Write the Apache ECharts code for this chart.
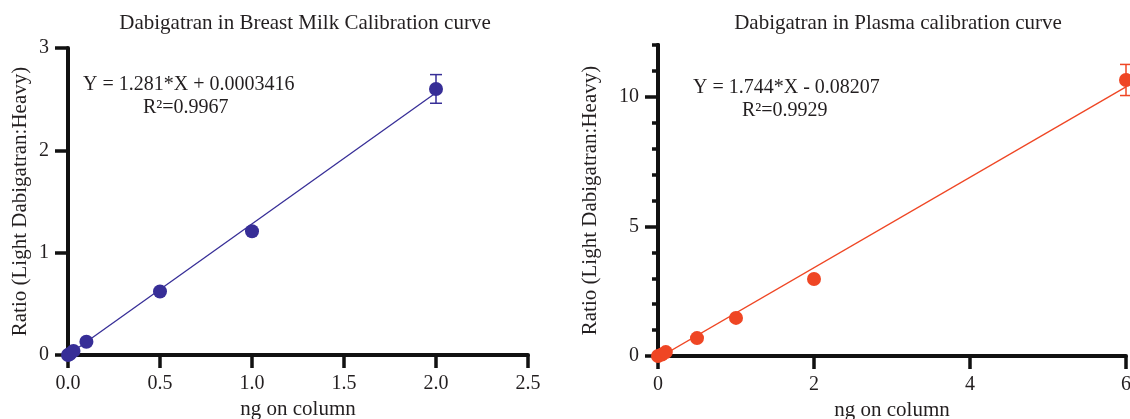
<!DOCTYPE html>
<html>
<head>
<meta charset="utf-8">
<script src="https://cdn.jsdelivr.net/npm/echarts@6/dist/echarts.min.js"></script>
<style>
  html, body { margin: 0; padding: 0; background: #fff; }
  #main { width: 1130px; height: 419px; }
</style>
</head>
<body>
<div id="main"></div>
<script>
// breast milk calibration
const milkX = [0, 0.01, 0.03, 0.1, 0.5, 1.0, 2.0]
const milkY = [0, 0.01, 0.04, 0.13, 0.62, 1.21, 2.6]
const milkErr = [0, 0, 0, 0, 0, 0, 0.14]
const milkFit = { slope: 1.281, intercept: 0.0003416, from: 0, to: 2 }

// plasma calibration
const plasmaX = [0, 0.05, 0.1, 0.5, 1.0, 2.0, 6.0]
const plasmaY = [0, 0.06, 0.15, 0.69, 1.47, 2.97, 10.65]
const plasmaErr = [0, 0, 0, 0, 0, 0, 0.6]
const plasmaFit = { slope: 1.744, intercept: -0.08207, from: 0, to: 6 }

const plasmaMajorTicks = [0, 5, 10]

const milkColor = '#372e97'
const plasmaColor = '#ef4624'
const font = 'Liberation Serif'
const textColor = '#231f20'

const toPoints = (xs, ys) => xs.map((x, i) => [x, ys[i]])
const toErr = (xs, ys, es) => xs.map((x, i) => [x, ys[i] - es[i], ys[i] + es[i]]).filter((d, i) => es[i] > 0)
const fitLine = (f) => [[f.from, f.slope * f.from + f.intercept], [f.to, f.slope * f.to + f.intercept]]

const errorRender = (color) => (params, api) => {
  const lo = api.coord([api.value(0), api.value(1)])
  const hi = api.coord([api.value(0), api.value(2)])
  const w = 6
  const style = { stroke: color, lineWidth: 1.5 }
  return {
    type: 'group',
    children: [
      { type: 'line', shape: { x1: lo[0], y1: lo[1], x2: hi[0], y2: hi[1] }, style },
      { type: 'line', shape: { x1: lo[0] - w, y1: lo[1], x2: lo[0] + w, y2: lo[1] }, style },
      { type: 'line', shape: { x1: hi[0] - w, y1: hi[1], x2: hi[0] + w, y2: hi[1] }, style }
    ]
  }
}

const labelStyle = { color: textColor, fontFamily: font, fontSize: 20, margin: 19 }
const nameStyle = { color: textColor, fontFamily: font, fontSize: 21 }

const axisCommon = {
  axisLine: { onZero: false, lineStyle: { color: '#111', width: 4 } },
  axisTick: { length: 13, lineStyle: { color: '#111', width: 3.5 } },
  splitLine: { show: false },
  axisLabel: labelStyle,
  nameTextStyle: nameStyle,
  nameLocation: 'middle'
}

const chart = echarts.init(document.getElementById('main'))

const titleStyle = { fontFamily: font, fontSize: 21, fontWeight: 'normal', color: textColor }
const eqFont = '20px "Liberation Serif"'

const option = {
  animation: false,
  title: [
    { text: 'Dabigatran in Breast Milk Calibration curve', left: 300, top: 8, textAlign: 'center', textStyle: titleStyle },
    { text: 'Dabigatran in Plasma calibration curve', left: 893, top: 8, textAlign: 'center', textStyle: titleStyle }
  ],
  grid: [
    { left: 68, top: 48, width: 460, height: 307, outerBoundsMode: 'none', containLabel: false },
    { left: 658, top: 45, width: 468, height: 311, outerBoundsMode: 'none', containLabel: false }
  ],
  xAxis: [
    { ...axisCommon, gridIndex: 0, type: 'value', min: 0, max: 2.5, interval: 0.5, name: 'ng on column', nameGap: 44,
      axisLabel: { ...labelStyle, formatter: (v) => v.toFixed(1) } },
    { ...axisCommon, gridIndex: 1, type: 'value', min: 0, max: 6, interval: 2, name: 'ng on column', nameGap: 44 }
  ],
  yAxis: [
    { ...axisCommon, gridIndex: 0, type: 'value', min: 0, max: 3, interval: 1, name: 'Ratio (Light Dabigatran:Heavy)', nameGap: 37 },
    // plasma: short ticks every unit
    { ...axisCommon, gridIndex: 1, type: 'value', position: 'left', min: 0, max: 12, interval: 1,
      axisTick: { ...axisCommon.axisTick, length: 6 }, axisLabel: { show: false } },
    // plasma: long ticks and labels at 0, 5, 10
    { ...axisCommon, gridIndex: 1, type: 'value', position: 'left', min: 0, max: 12, interval: 1,
      name: 'Ratio (Light Dabigatran:Heavy)', nameGap: 57,
      axisTick: { ...axisCommon.axisTick, customValues: plasmaMajorTicks },
      axisLabel: { ...labelStyle, customValues: plasmaMajorTicks } }
  ],
  graphic: [
    { type: 'text', left: 83, top: 75, style: { text: 'Y = 1.281*X + 0.0003416', font: eqFont, fill: textColor } },
    { type: 'text', left: 143, top: 98, style: { text: 'R²=0.9967', font: eqFont, fill: textColor } },
    { type: 'text', left: 693, top: 78, style: { text: 'Y = 1.744*X - 0.08207', font: eqFont, fill: textColor } },
    { type: 'text', left: 742, top: 101, style: { text: 'R²=0.9929', font: eqFont, fill: textColor } }
  ],
  series: [
    { type: 'line', xAxisIndex: 0, yAxisIndex: 0, data: fitLine(milkFit), symbol: 'none',
      lineStyle: { color: milkColor, width: 1.3 } },
    { type: 'scatter', xAxisIndex: 0, yAxisIndex: 0, data: toPoints(milkX, milkY), symbolSize: 14,
      itemStyle: { color: milkColor, opacity: 1 }, clip: false, z: 3 },
    { type: 'custom', xAxisIndex: 0, yAxisIndex: 0, data: toErr(milkX, milkY, milkErr),
      renderItem: errorRender(milkColor), clip: false, z: 4 },
    { type: 'line', xAxisIndex: 1, yAxisIndex: 1, data: fitLine(plasmaFit), symbol: 'none',
      lineStyle: { color: plasmaColor, width: 1.3 } },
    { type: 'scatter', xAxisIndex: 1, yAxisIndex: 1, data: toPoints(plasmaX, plasmaY), symbolSize: 14,
      itemStyle: { color: plasmaColor, opacity: 1 }, clip: false, z: 3 },
    { type: 'custom', xAxisIndex: 1, yAxisIndex: 1, data: toErr(plasmaX, plasmaY, plasmaErr),
      renderItem: errorRender(plasmaColor), clip: false, z: 4 }
  ]
}

chart.setOption(option)
</script>
</body>
</html>
